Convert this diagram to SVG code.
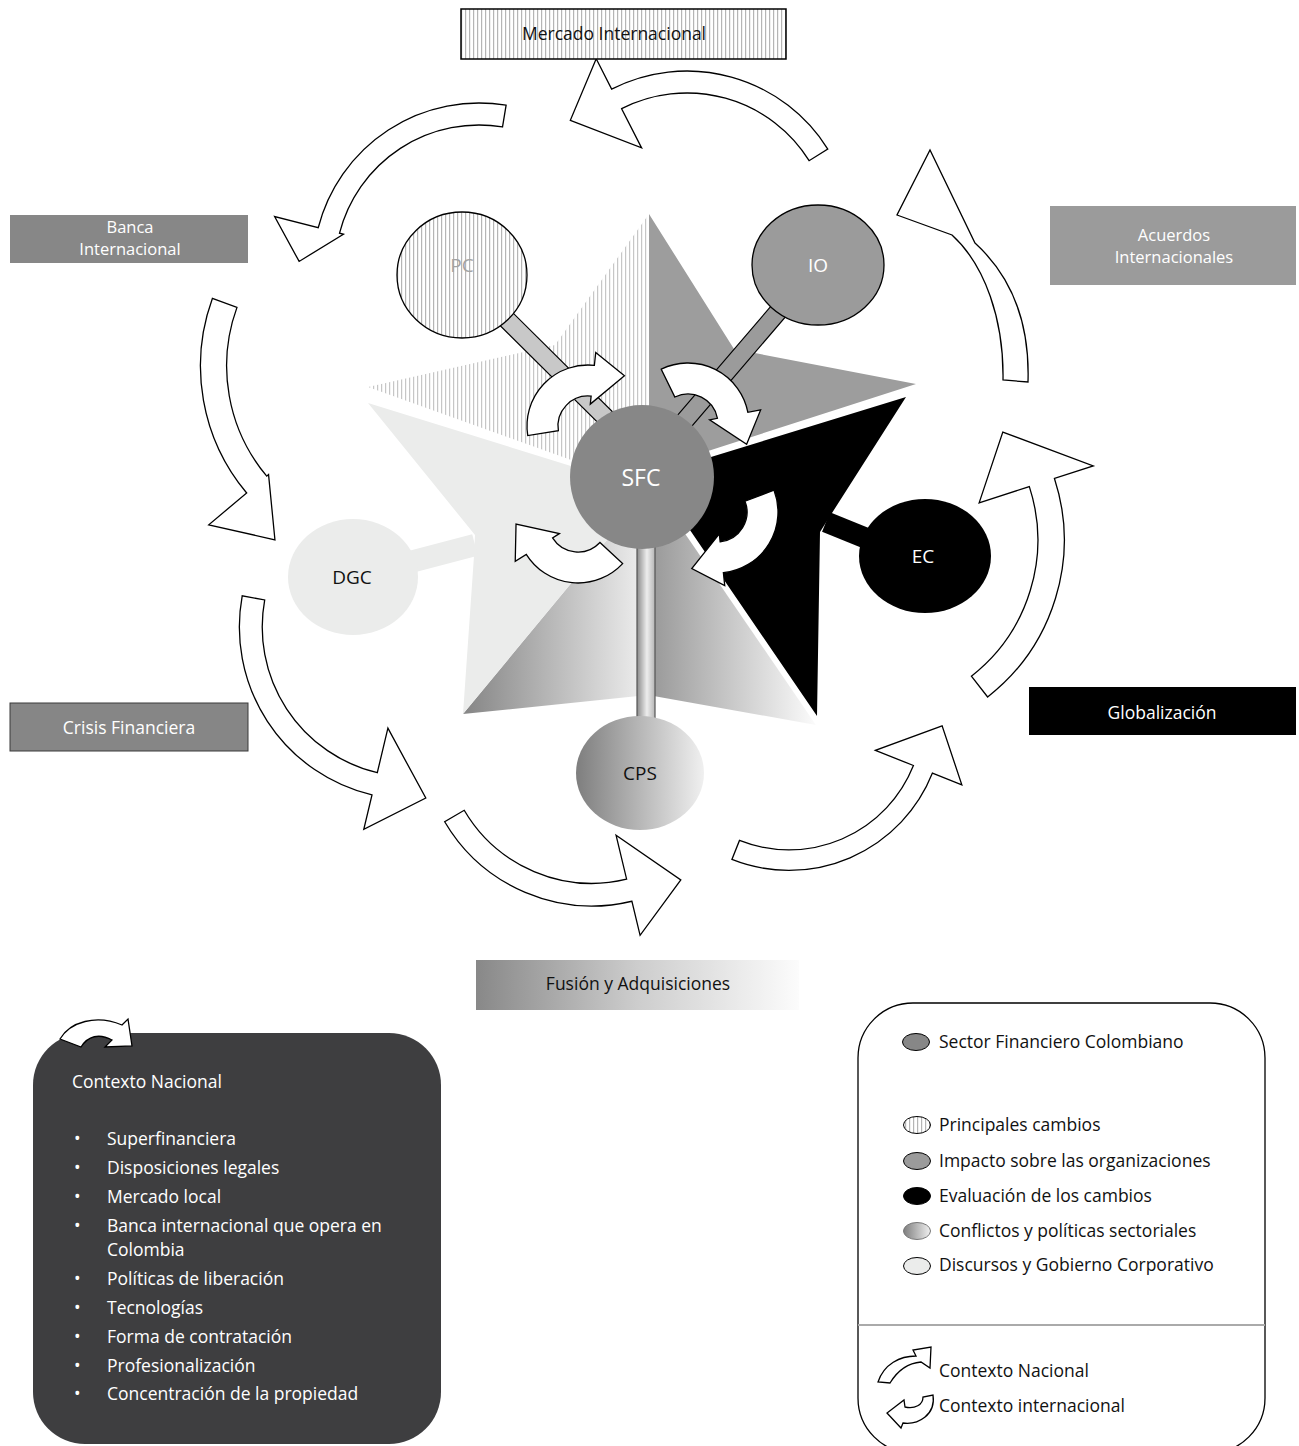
<svg xmlns="http://www.w3.org/2000/svg" xmlns:xlink="http://www.w3.org/1999/xlink" width="1299" height="1446" viewBox="0 0 1299 1446">
<style>
.t{font-family:"Open Sans","Liberation Sans",sans-serif;font-size:17.5px}
.t2{font-family:"Open Sans","Liberation Sans",sans-serif;font-size:16.5px}
.w{fill:#fff}
.k{fill:#111}
.c{text-anchor:middle}
.arr{fill:#fff;stroke:#000;stroke-width:1.3;stroke-linejoin:miter;vector-effect:non-scaling-stroke}
.sarr{fill:#fff;stroke:#000;stroke-width:1.3;stroke-linejoin:miter}
</style>
<defs>
<pattern id="hatch" width="4" height="8" patternUnits="userSpaceOnUse"><rect width="4" height="8" fill="#fff"/><rect x="1" width="1.2" height="8" fill="#b5b5b5"/></pattern>
<pattern id="hatch2" width="4" height="8" patternUnits="userSpaceOnUse"><rect width="4" height="8" fill="#fff"/><rect x="1" width="1.2" height="8" fill="#c6c6c6"/></pattern>
<linearGradient id="gG1" x1="0" y1="0" x2="1" y2="0"><stop offset="0" stop-color="#858585"/><stop offset="1" stop-color="#f0f0f0"/></linearGradient>
<linearGradient id="gG2" x1="0" y1="0" x2="1" y2="0"><stop offset="0" stop-color="#979797"/><stop offset="1" stop-color="#fbfbfb"/></linearGradient>
<linearGradient id="gCPS" x1="0" y1="0" x2="1" y2="0"><stop offset="0" stop-color="#7e7e7e"/><stop offset="1" stop-color="#f0f0f0"/></linearGradient>
<linearGradient id="gBar" x1="0" y1="0" x2="1" y2="0"><stop offset="0" stop-color="#8a8a8a"/><stop offset="0.55" stop-color="#ededed"/><stop offset="1" stop-color="#b5b5b5"/></linearGradient>
<linearGradient id="gFus" x1="0" y1="0" x2="1" y2="0"><stop offset="0" stop-color="#888"/><stop offset="0.5" stop-color="#cdcdcd"/><stop offset="1" stop-color="#fcfcfc"/></linearGradient>
<path id="sa" d="M22,0 L30,0 A30,30 0 0 0 -7.76,-28.98 L-15.79,-58.92 A61,61 0 0 1 61,0 L74,0 L53.7,31 Z"/>
</defs>

<g id="star">
<polygon points="368,387 555,345 649,214 649,488" fill="url(#hatch2)"/>
<polygon points="649,214 734,349 916,384 649,470" fill="#9d9d9d"/>
<polygon points="649,476 906,397 832,513 820,532 817,716 649,470" fill="#000"/>
<polygon points="649,481 816,725 648,695" fill="url(#gG2)"/>
<polygon points="463,714 645,494 648,695" fill="url(#gG1)"/>
<polygon points="368,403 645,489 645,494 463,714 474,556 475,535" fill="#ebeceb"/>
</g>

<g id="connectors">
<line x1="475" y1="545" x2="353" y2="577" stroke="#ebeceb" stroke-width="22"/>
<line x1="826" y1="522" x2="900" y2="552" stroke="#000" stroke-width="21"/>
<polygon points="468.3,268.6 612.3,411.6 599.7,424.4 455.7,281.4" fill="#c8c8c8" stroke="#000" stroke-width="1.2"/>
<polygon points="824.8,270.9 681.8,437.9 668.2,426.2 811.2,259.2" fill="#9b9b9b" stroke="#000" stroke-width="1.2"/>
<rect x="637" y="540" width="18" height="185" fill="url(#gBar)" stroke="#555" stroke-width="1.2"/>
</g>

<g id="node-PC"><ellipse cx="462" cy="275" rx="65" ry="63" fill="url(#hatch)" stroke="#000" stroke-width="1.3"/><text class="t c" x="462" y="272" fill="#a3a3a3" style="font-size:19px">PC</text></g>
<g id="node-IO"><ellipse cx="818" cy="265" rx="66" ry="60" fill="#9b9b9b" stroke="#000" stroke-width="1.3"/><text class="t c w" x="818" y="272" style="font-size:19px">IO</text></g>
<g id="node-SFC"><circle cx="642" cy="477" r="72" fill="#878787"/><text class="t c w" x="641" y="486" style="font-size:23px">SFC</text></g>
<g id="node-EC"><ellipse cx="925" cy="556" rx="66" ry="57" fill="#000"/><text class="t c w" x="923" y="563" style="font-size:19px">EC</text></g>
<g id="node-DGC"><ellipse cx="353" cy="577" rx="65" ry="58" fill="#ebeceb"/><text class="t c k" x="352" y="584" style="font-size:19px">DGC</text></g>
<g id="node-CPS"><ellipse cx="640" cy="773" rx="64" ry="57" fill="url(#gCPS)"/><text class="t c k" x="640" y="780" style="font-size:19px">CPS</text></g>

<g id="inner-arrows">
<use href="#sa" class="sarr" transform="translate(588,426) rotate(-84)"/>
<use href="#sa" class="sarr" transform="translate(688,424) rotate(-11)"/>
<use href="#sa" class="sarr" transform="translate(717,512) rotate(84)"/>
<use href="#sa" class="sarr" transform="translate(578,522) rotate(148)"/>
</g>

<g id="outer-arrows">
<path class="arr" transform="translate(687,237) rotate(-117)" d="M100,0 L144,0 A144,144 0 0 1 12.55,143.45 L14.47,165.37 A166,166 0 0 0 166,0 L200,0 L156.9,-51 Z"/>
<path class="arr" transform="translate(479,269) rotate(-165.6)" d="M140,0 L144,0 A144,144 0 0 1 12.55,143.45 L14.47,165.37 A166,166 0 0 0 166,0 L211,0 L176.1,-37.4 Z"/>
<path class="arr" transform="translate(398,366) rotate(140) scale(1.19)" d="M142,0 L144,0 A144,144 0 0 1 72,124.71 L83,143.76 A166,166 0 0 0 166,0 L207.6,0 L173.1,-45.4 Z"/>
<path class="arr" transform="translate(412,627) rotate(103.4) scale(1.04)" d="M100,0 L144,0 A144,144 0 0 1 7.54,143.8 L8.69,165.77 A166,166 0 0 0 166,0 L200,0 L156.9,-51 Z"/>
<path class="arr" transform="translate(592,735) rotate(76.5) scale(1.03)" d="M100,0 L144,0 A144,144 0 0 1 42.1,137.71 L48.53,158.75 A166,166 0 0 0 166,0 L200,0 L156.9,-51 Z"/>
<path class="arr" transform="translate(789,716) rotate(21.7) scale(0.93)" d="M100,0 L144,0 A144,144 0 0 1 0,144 L0,166 A166,166 0 0 0 166,0 L200,0 L156.9,-51 Z"/>
<path class="arr" transform="translate(865,540) rotate(-18) scale(1.2)" d="M100,0 L144,0 A144,144 0 0 1 49.25,135.32 L56.78,155.99 A166,166 0 0 0 166,0 L200,0 L137,-50 Z"/>
<path class="arr" d="M1028,382 C1030,320 1010,275 975,243 L930,150 L897,215 L952,235 C985,265 1004,320 1003,380 Z"/>
</g>

<g id="node-mercado"><rect x="461" y="9" width="325" height="50" fill="url(#hatch)" stroke="#000" stroke-width="1.5"/><text class="t c k" x="614" y="40">Mercado Internacional</text></g>
<g id="node-banca"><rect x="10" y="215" width="238" height="48" fill="#878787"/><text class="t2 c w" x="130" y="233">Banca</text><text class="t2 c w" x="130" y="255">Internacional</text></g>
<g id="node-acuerdos"><rect x="1050" y="206" width="246" height="79" fill="#9b9b9b"/><text class="t2 c w" x="1174" y="241">Acuerdos</text><text class="t2 c w" x="1174" y="263">Internacionales</text></g>
<g id="node-crisis"><rect x="10" y="703" width="238" height="48" fill="#868686" stroke="#3a3a3a" stroke-width="1"/><text class="t c w" x="129" y="734">Crisis Financiera</text></g>
<g id="node-global"><rect x="1029" y="687" width="267" height="48" fill="#000"/><text class="t c w" x="1162" y="719">Globalización</text></g>
<g id="node-fusion"><rect x="476" y="960" width="323" height="50" fill="url(#gFus)"/><text class="t c k" x="638" y="990">Fusión y Adquisiciones</text></g>

<g id="node-contexto">
<rect x="33" y="1033" width="408" height="411" rx="52" fill="#3e3e40"/>
<path class="sarr" d="M60,1039 C70,1022 96,1014 122,1025 L128,1019 L132,1046 L105,1047 L112,1040 C99,1033 88,1036 81,1047 Z"/>
<text class="t w" x="72" y="1088">Contexto Nacional</text>
<g class="t w">
<text x="74" y="1145">•</text><text x="107" y="1145">Superfinanciera</text>
<text x="74" y="1174">•</text><text x="107" y="1174">Disposiciones legales</text>
<text x="74" y="1203">•</text><text x="107" y="1203">Mercado local</text>
<text x="74" y="1232">•</text><text x="107" y="1232">Banca internacional que opera en</text>
<text x="107" y="1256">Colombia</text>
<text x="74" y="1285">•</text><text x="107" y="1285">Políticas de liberación</text>
<text x="74" y="1314">•</text><text x="107" y="1314">Tecnologías</text>
<text x="74" y="1343">•</text><text x="107" y="1343">Forma de contratación</text>
<text x="74" y="1372">•</text><text x="107" y="1372">Profesionalización</text>
<text x="74" y="1400">•</text><text x="107" y="1400">Concentración de la propiedad</text>
</g>
</g>

<g id="legend">
<rect x="858" y="1003" width="407" height="450" rx="55" fill="#fff" stroke="#000" stroke-width="1.3"/>
<line x1="858" y1="1325" x2="1265" y2="1325" stroke="#aaa" stroke-width="2"/>
<ellipse cx="916" cy="1042" rx="13.5" ry="8.5" fill="#878787" stroke="#000" stroke-width="1"/>
<text class="t k" x="939" y="1048">Sector Financiero Colombiano</text>
<ellipse cx="917" cy="1125" rx="13.5" ry="8.5" fill="url(#hatch)" stroke="#000" stroke-width="1"/>
<text class="t k" x="939" y="1131">Principales cambios</text>
<ellipse cx="917" cy="1161" rx="13.5" ry="8.5" fill="#9b9b9b" stroke="#000" stroke-width="1"/>
<text class="t k" x="939" y="1167">Impacto sobre las organizaciones</text>
<ellipse cx="917" cy="1196" rx="13.5" ry="8.5" fill="#000" stroke="#000" stroke-width="1"/>
<text class="t k" x="939" y="1202">Evaluación de los cambios</text>
<ellipse cx="917" cy="1231" rx="13.5" ry="8.5" fill="url(#gCPS)" stroke="#777" stroke-width="1"/>
<text class="t k" x="939" y="1237">Conflictos y políticas sectoriales</text>
<ellipse cx="917" cy="1266" rx="13.5" ry="8.5" fill="#ebeceb" stroke="#000" stroke-width="1"/>
<text class="t k" x="939" y="1271">Discursos y Gobierno Corporativo</text>
<path class="sarr" d="M878,1382 C884,1364 900,1356 916,1356 L913,1350 L931,1347 L930,1368 L921,1362 C908,1363 898,1370 890,1383 Z"/>
<text class="t k" x="939" y="1377">Contexto Nacional</text>
<path class="sarr" d="M933,1395 C936,1415 918,1425 903,1423 L901,1428 L887,1413 L904,1400 L905,1407 C915,1409 923,1405 923,1397 Z"/>
<text class="t k" x="939" y="1412">Contexto internacional</text>
</g>
</svg>
